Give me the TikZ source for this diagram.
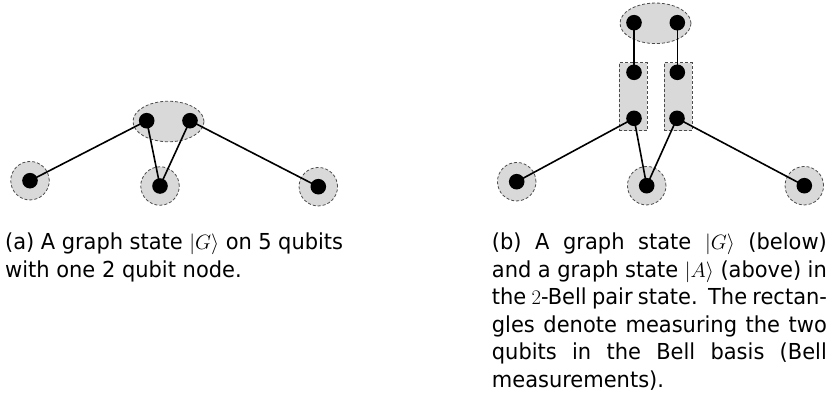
\documentclass[tikz,border=0pt]{standalone}
\usepackage{fontspec}
\setmainfont[FakeStretch=1.06]{DejaVu Sans Condensed}
\usetikzlibrary{shapes.geometric}
\begin{document}
\begin{tikzpicture}[x=1pt,y=-1pt,
  halo/.style={circle,fill=black!15,draw=black!70,dash pattern=on 3pt off 2pt,line width=0.8pt,minimum size=38.5pt,inner sep=0pt},
  pairzone/.style={ellipse,fill=black!15,draw=black!70,dash pattern=on 3pt off 2pt,line width=0.8pt,minimum width=71pt,minimum height=40.5pt,inner sep=0pt},
  bellbox/.style={rectangle,fill=black!15,draw=black!70,dash pattern=on 3pt off 2pt,line width=0.8pt,minimum width=28pt,minimum height=68pt,inner sep=0pt},
  qubit/.style={circle,fill=black,minimum size=15.6pt,inner sep=0pt},
  edge/.style={line width=1.6pt},
  capline/.style={anchor=base west,inner sep=0pt,font=\fontsize{22}{27.5}\selectfont}]
\useasboundingbox (0,0) rectangle (827,404);

% ---- (a) graph state on five qubits ----
\node[pairzone] (az) at (168.5,121.5) {};
\node[halo] (ah1) at (30,180.7) {};
\node[halo] (ah2) at (160,186) {};
\node[halo] (ah3) at (318.3,186.7) {};
\node[qubit] (a1) at (146.7,120.7) {};
\node[qubit] (a2) at (190,120.7) {};
\node[qubit] (a3) at (30,180.7) {};
\node[qubit] (a4) at (160,186) {};
\node[qubit] (a5) at (318.3,186.7) {};
\draw[edge] (a1.center) -- (a3.center);
\draw[edge] (a1.center) -- (a4.center);
\draw[edge] (a2.center) -- (a4.center);
\draw[edge] (a2.center) -- (a5.center);

% ---- (b) graph state joined by Bell measurements ----
\node[pairzone] (bz) at (655.5,23.3) {};
\node[bellbox] (br1) at (633.3,96.8) {};
\node[bellbox] (br2) at (678,96.8) {};
\node[halo] (bh1) at (516.7,181.7) {};
\node[halo] (bh2) at (646.7,185.7) {};
\node[halo] (bh3) at (804.3,185.7) {};
\node[qubit] (t1) at (634,22.7) {};
\node[qubit] (t2) at (677.3,22.7) {};
\node[qubit] (m1) at (634,72.3) {};
\node[qubit] (m2) at (677.3,72.3) {};
\node[qubit] (n1) at (634,118.3) {};
\node[qubit] (n2) at (677,118.3) {};
\node[qubit] (b1) at (516.7,181.7) {};
\node[qubit] (b2) at (646.7,185.7) {};
\node[qubit] (b3) at (804.3,185.7) {};
\draw[edge] (t1.center) -- (m1.center);
\draw[edge] (t2.center) -- (m2.center);
\draw[edge] (n1.center) -- (b1.center);
\draw[edge] (n1.center) -- (b2.center);
\draw[edge] (n2.center) -- (b2.center);
\draw[edge] (n2.center) -- (b3.center);

% ---- captions ----
\node[capline] (ca1) at (5,249.5) {\makebox[338pt][s]{(a) A graph state $|G\rangle$ on 5 qubits}};
\node[capline] (ca2) at (5,277) {with one 2 qubit node.};

\node[capline] (cb1) at (491.7,249.5) {\makebox[335pt][s]{(b) A graph state $|G\rangle$ (below)}};
\node[capline] (cb2) at (491.7,277) {\makebox[335pt][s]{and a graph state $|A\rangle$ (above) in}};
\node[capline] (cb3) at (491.7,304.5) {\makebox[335pt][s]{the $2$-Bell pair state.\ \ The rectan-}};
\node[capline] (cb4) at (491.7,332) {\makebox[335pt][s]{gles denote measuring the two}};
\node[capline] (cb5) at (491.7,359.5) {\makebox[335pt][s]{qubits in the Bell basis (Bell}};
\node[capline] (cb6) at (491.7,387) {measurements).};
\end{tikzpicture}
\end{document}
